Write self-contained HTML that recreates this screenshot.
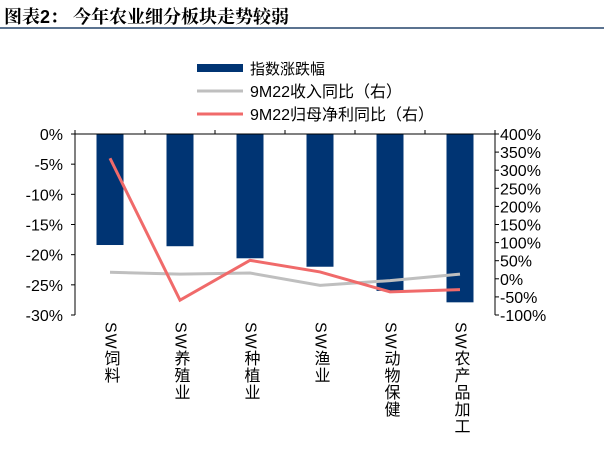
<!DOCTYPE html>
<html><head><meta charset="utf-8"><style>
body{margin:0;background:#fff;width:604px;height:449px;overflow:hidden;font-family:"Liberation Sans","Noto Sans CJK SC",sans-serif}
#title{position:absolute;left:4px;top:3px;font-size:18px;font-weight:bold;color:#000;font-family:"Liberation Sans","Noto Serif CJK SC",sans-serif}
#rule{position:absolute;left:0;top:27px;width:604px;height:2px;background:#5b7390}
.xl{position:absolute;top:322px;writing-mode:vertical-rl;font-size:16px;line-height:17px;transform:translateX(-50%);letter-spacing:1px}
</style></head><body>
<div id="title">图表2： 今年农业细分板块走势较弱</div>
<div id="rule"></div>
<svg id="chart" width="604" height="449" style="position:absolute;left:0;top:0">
<g>
<rect x="197" y="64" width="46" height="8" fill="#003473"/>
<text x="250" y="74" font-size="15">指数涨跌幅</text>
<line x1="197" y1="91" x2="243" y2="91" stroke="#bfbfbf" stroke-width="3"/>
<text x="250" y="97" font-size="16">9M22收入同比（右）</text>
<line x1="197" y1="114" x2="243" y2="114" stroke="#f06a6a" stroke-width="3"/>
<text x="250" y="120" font-size="16">9M22归母净利同比（右）</text>
</g>
<g id="plot"></g>
</svg>
<script>
const categories=["SW饲料","SW养殖业","SW种植业","SW渔业","SW动物保健","SW农产品加工"];
const indexChange=[-18.4,-18.6,-20.6,-22,-26,-27.9];
const revenueYoY=[18,13,16,-18,-5,13];
const profitYoY=[333,-59,51,19,-36,-30];
const leftTicks=[0,-5,-10,-15,-20,-25,-30];
const rightTicks=[400,350,300,250,200,150,100,50,0,-50,-100];
const L=75,R=495,T=134,B=315;
const yL=v=>T+(0-v)/30*(B-T);
const yR=v=>T+(400-v)/500*(B-T);
const cw=(R-L)/categories.length;
const xC=i=>L+cw*(i+0.5);
const ns="http://www.w3.org/2000/svg";
const g=document.getElementById('plot');
function mk(t,a){const e=document.createElementNS(ns,t);for(const k in a)e.setAttribute(k,a[k]);g.appendChild(e);return e;}
indexChange.forEach((v,i)=>{const e=mk('rect',{x:xC(i)-13.5,y:yL(0),width:27,height:yL(v)-yL(0),fill:'#003473'});

});
let a=mk('line',{x1:L,y1:T,x2:R,y2:T,stroke:'#000','stroke-width':1});


for(let i=0;i<=categories.length;i++){mk('line',{x1:L+cw*i,y1:T,x2:L+cw*i,y2:T-4,stroke:'#000'});}
a=mk('line',{x1:L,y1:T,x2:L,y2:B,stroke:'#000'});


a=mk('line',{x1:R,y1:T,x2:R,y2:B,stroke:'#000'});


leftTicks.forEach(v=>{mk('line',{x1:L-4,y1:yL(v),x2:L,y2:yL(v),stroke:'#000'});
const t=mk('text',{x:63,y:yL(v)+6,'text-anchor':'end','font-size':16});t.textContent=v+'%';

});
rightTicks.forEach(v=>{mk('line',{x1:R,y1:yR(v),x2:R+4,y2:yR(v),stroke:'#000'});
const t=mk('text',{x:500,y:yR(v)+6,'font-size':16});t.textContent=v+'%';

});
let p=mk('polyline',{points:revenueYoY.map((v,i)=>xC(i)+','+yR(v)).join(' '),fill:'none',stroke:'#bfbfbf','stroke-width':3});


p=mk('polyline',{points:profitYoY.map((v,i)=>xC(i)+','+yR(v)).join(' '),fill:'none',stroke:'#f06a6a','stroke-width':3});


categories.forEach((c,i)=>{const d=document.createElement('div');d.className='xl';d.style.left=xC(i)+'px';d.textContent=c;


document.body.appendChild(d);});
</script>
</body></html>
